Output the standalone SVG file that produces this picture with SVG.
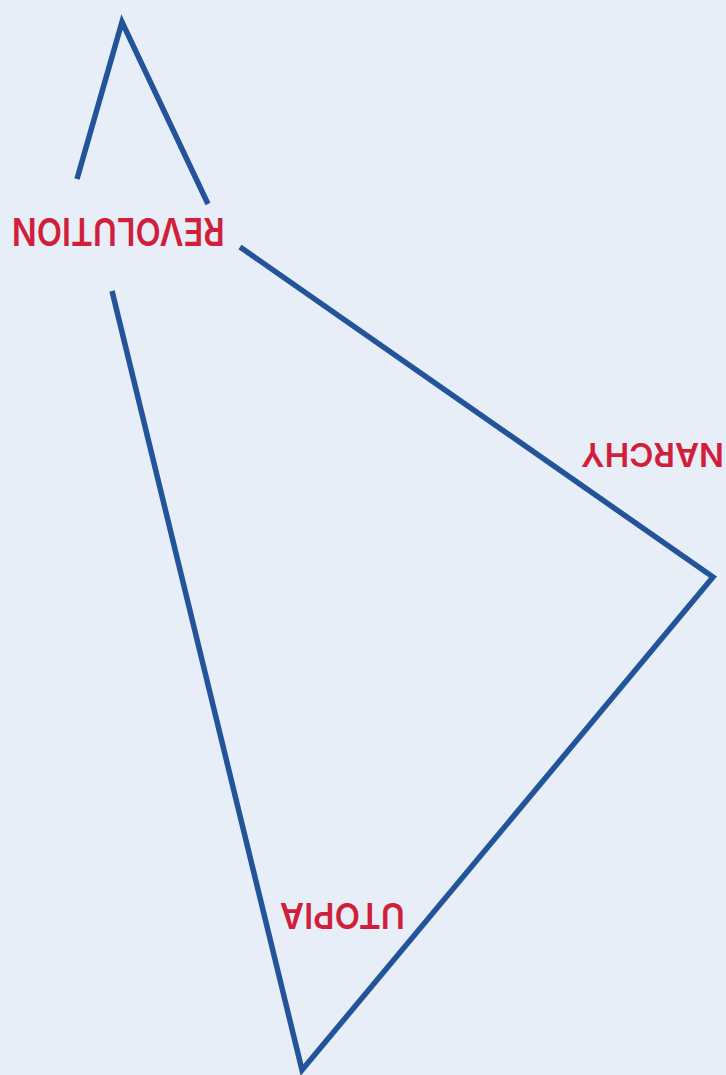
<svg xmlns="http://www.w3.org/2000/svg" width="726" height="1075" viewBox="0 0 726 1075">
<style>
.ln{fill:none;stroke:#23549a;stroke-width:5.5;stroke-linejoin:miter;stroke-miterlimit:20}
.lb{font-family:Inter,"Liberation Sans",Arial,sans-serif;font-weight:600;fill:#d01f3a;text-anchor:middle}
</style>
<rect width="726" height="1075" fill="#e8eef8"/>
<g id="connectors">
<polyline class="ln" points="77,179 122,22 208,204"/>
<polyline class="ln" points="240,247 713,577 302,1070 112,291"/>
</g>
<g id="revolution">
<text class="lb" transform="translate(118.3,232) rotate(180)" y="14" font-size="38" textLength="213" lengthAdjust="spacingAndGlyphs">REVOLUTION</text>
</g>
<g id="narchy">
<text class="lb" transform="translate(652.5,455) rotate(180)" y="12" font-size="33" textLength="143" lengthAdjust="spacingAndGlyphs">NARCHY</text>
</g>
<g id="utopia">
<text class="lb" transform="translate(342.5,916) rotate(180)" y="13" font-size="36" textLength="125" lengthAdjust="spacingAndGlyphs">UTOPIA</text>
</g>
</svg>
